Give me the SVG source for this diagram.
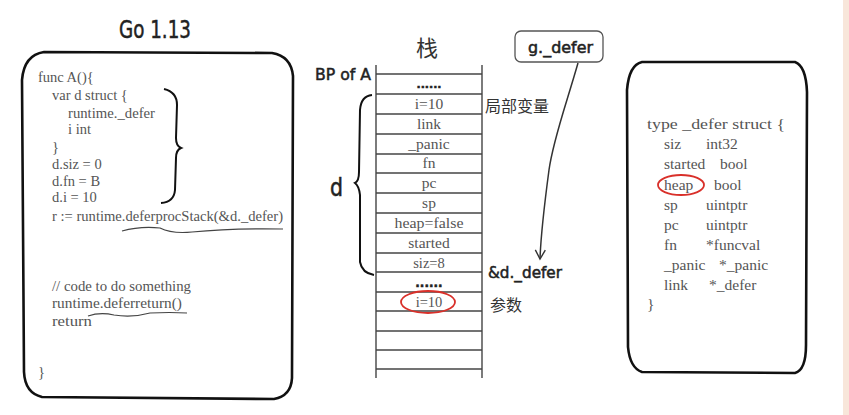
<svg xmlns="http://www.w3.org/2000/svg" width="849" height="415" viewBox="0 0 849 415">
<style>
.code{font-family:"Liberation Serif","Noto Sans CJK SC",serif;font-size:14.5px;fill:#555}
.big{font-size:15.5px}
.hand{font-family:"DejaVu Sans","Noto Sans",sans-serif;fill:#222;stroke:#222;stroke-width:0.5}
.cjk{font-family:"Noto Sans CJK SC",sans-serif;fill:#333}
.box{fill:none;stroke:#111;stroke-width:2.6;stroke-linejoin:round}
.row{stroke:#444;stroke-width:1.4}
.brace{fill:none;stroke:#111;stroke-width:2}
.wave{fill:none;stroke:#444;stroke-width:1.2}
.red{fill:none;stroke:#d9302a;stroke-width:1.8}
.st{text-anchor:middle}
</style>
<defs>
<marker id="arr" viewBox="0 0 12 12" refX="10" refY="6" markerWidth="12" markerHeight="12" markerUnits="userSpaceOnUse" orient="auto">
<path d="M1 1 L10 6 L1 11" fill="none" stroke="#333" stroke-width="1.4"/>
</marker>
</defs>
<rect width="849" height="415" fill="#fff"/>
<rect x="843" y="0" width="6" height="415" fill="#f8e6da"/>

<text class="hand" x="155" y="38" font-size="25" text-anchor="middle" textLength="72" lengthAdjust="spacingAndGlyphs">Go 1.13</text>

<g id="func-box">
<path class="box" d="M44 52 L272 53 Q291 56 293 76 L292 378 Q291 396 274 399 L42 397 Q25 393 24 372 L22 80 Q24 55 44 52 Z"/>
<text class="code" x="38" y="82">func A(){</text>
<text class="code" x="52" y="100">var d struct {</text>
<text class="code" x="68" y="118" textLength="87" lengthAdjust="spacingAndGlyphs">runtime._defer</text>
<text class="code" x="68" y="134">i int</text>
<text class="code" x="52" y="152">}</text>
<text class="code" x="52" y="169">d.siz = 0</text>
<text class="code" x="52" y="186">d.fn = B</text>
<text class="code" x="52" y="202">d.i = 10</text>
<text class="code" x="52" y="221" textLength="231" lengthAdjust="spacingAndGlyphs">r := runtime.deferprocStack(&amp;d._defer)</text>
<text class="code" x="52" y="291" textLength="139" lengthAdjust="spacingAndGlyphs">// code to do something</text>
<text class="code" x="52" y="308" textLength="130" lengthAdjust="spacingAndGlyphs">runtime.deferreturn()</text>
<text class="code" x="52" y="326" textLength="40" lengthAdjust="spacingAndGlyphs">return</text>
<text class="code" x="38" y="377">}</text>
<path class="brace" d="M164 89 Q177 92 177 105 L176 138 Q176 146 181 148 Q176 150 176 158 L175 190 Q174 202 161 203"/>
<path class="wave" d="M122 231 Q140 226 160 228 Q172 234 192 232 Q230 228 283 229"/>
<path class="wave" d="M88 316 Q100 312 114 315 Q132 318 150 313 Q170 312 187 313"/>
</g>

<g id="stack">
<text class="cjk" x="427" y="56" font-size="22" text-anchor="middle">栈</text>
<text class="hand" x="315" y="80" font-size="16" textLength="56" lengthAdjust="spacingAndGlyphs">BP of A</text>
<line class="row" x1="376" y1="65" x2="376" y2="378"/>
<line class="row" x1="482" y1="65" x2="482" y2="378"/>
<g>
<line class="row" x1="376" y1="74" x2="482" y2="74"/>
<line class="row" x1="376" y1="94" x2="482" y2="94"/>
<line class="row" x1="376" y1="114" x2="482" y2="114"/>
<line class="row" x1="376" y1="134" x2="482" y2="134"/>
<line class="row" x1="376" y1="154" x2="482" y2="154"/>
<line class="row" x1="376" y1="173" x2="482" y2="173"/>
<line class="row" x1="376" y1="193" x2="482" y2="193"/>
<line class="row" x1="376" y1="213" x2="482" y2="213"/>
<line class="row" x1="376" y1="233" x2="482" y2="233"/>
<line class="row" x1="376" y1="253" x2="482" y2="253"/>
<line class="row" x1="376" y1="272" x2="482" y2="272"/>
<line class="row" x1="376" y1="292" x2="482" y2="292"/>
<line class="row" x1="376" y1="311" x2="482" y2="311"/>
<line class="row" x1="376" y1="331" x2="482" y2="331"/>
<line class="row" x1="376" y1="350" x2="482" y2="350"/>
<line class="row" x1="376" y1="369" x2="482" y2="369"/>
</g>
<text class="hand st" x="429" y="88" font-size="11" font-weight="bold">......</text>
<text class="code big st" x="429" y="109">i=10</text>
<text class="code big st" x="429" y="129">link</text>
<text class="code big st" x="429" y="149">_panic</text>
<text class="code big st" x="429" y="168">fn</text>
<text class="code big st" x="429" y="188">pc</text>
<text class="code big st" x="429" y="208">sp</text>
<text class="code big st" x="429" y="228" textLength="69" lengthAdjust="spacingAndGlyphs">heap=false</text>
<text class="code big st" x="429" y="248">started</text>
<text class="code st" x="429" y="268" font-size="17">siz=8</text>
<text class="hand st" x="429" y="287" font-size="12" font-weight="bold">......</text>
<text class="code st" x="429" y="307" font-size="16">i=10</text>
<ellipse class="red" cx="428" cy="302" rx="27" ry="11"/>
<path class="brace" d="M372 95 Q361 96 360 110 L359 172 Q359 181 355 183 Q359 186 360 195 L360 262 Q362 273 374 275"/>
<text class="hand" x="330" y="196" font-size="24" textLength="13" lengthAdjust="spacingAndGlyphs">d</text>
<text class="cjk" x="485" y="112" font-size="16">局部变量</text>
<text class="hand" x="488" y="278" font-size="15" textLength="74" lengthAdjust="spacingAndGlyphs">&amp;d._defer</text>
<text class="cjk" x="490" y="311" font-size="16">参数</text>
</g>

<g id="g-defer">
<rect x="515" y="31" width="88" height="31" rx="6" fill="#fff" stroke="#555" stroke-width="1.3"/>
<text class="hand" x="528" y="53" font-size="15" textLength="65" lengthAdjust="spacingAndGlyphs">g._defer</text>
</g>

<g id="defer-struct">
<path class="box" d="M642 62 L795 62 Q806 66 807 92 L806 345 Q806 370 795 373 L642 372 Q630 368 628 347 L627 90 Q629 65 642 62 Z"/>
<text class="code big" x="647" y="129" textLength="138" lengthAdjust="spacingAndGlyphs">type _defer struct {</text>
<text class="code big" x="664" y="149">siz</text><text class="code big" x="706" y="149">int32</text>
<text class="code big" x="664" y="169">started</text><text class="code big" x="720" y="169">bool</text>
<text class="code big" x="664" y="190">heap</text><text class="code big" x="714" y="190">bool</text>
<text class="code big" x="664" y="210">sp</text><text class="code big" x="706" y="210">uintptr</text>
<text class="code big" x="664" y="230">pc</text><text class="code big" x="706" y="230">uintptr</text>
<text class="code big" x="664" y="250">fn</text><text class="code big" x="706" y="250">*funcval</text>
<text class="code big" x="664" y="270">_panic</text><text class="code big" x="719" y="270">*_panic</text>
<text class="code big" x="664" y="290">link</text><text class="code big" x="709" y="290">*_defer</text>
<text class="code big" x="647" y="309">}</text>
<ellipse class="red" cx="681" cy="185" rx="23" ry="10"/>
</g>

<g id="connectors">
<path d="M578 63 C566 105 553 140 549 170 C545 200 541 230 540 259" fill="none" stroke="#333" stroke-width="1.5" marker-end="url(#arr)"/>
</g>
</svg>
